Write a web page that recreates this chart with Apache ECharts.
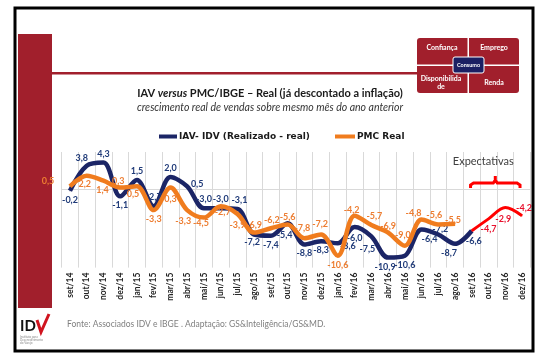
<!DOCTYPE html>
<html><head><meta charset="utf-8">
<script src="https://cdn.jsdelivr.net/npm/echarts@6/dist/echarts.min.js"></script>
<style>html,body{margin:0;padding:0;background:#fff}#c{width:547px;height:360px}</style>
</head><body><div id="c"></div>
<script>
const categories = ['set/14','out/14','nov/14','dez/14','jan/15','fev/15','mar/15','abr/15','mai/15','jun/15','jul/15','ago/15','set/15','out/15','nov/15','dez/15','jan/16','fev/16','mar/16','abr/16','mai/16','jun/16','jul/16','ago/16','set/16','out/16','nov/16','dez/16'];
const iavValues = [-0.2,3.8,4.3,-1.1,1.5,-2.7,2.0,0.5,-3.0,-3.0,-3.1,-7.2,-7.4,-5.4,-8.8,-8.3,-8.6,-6.0,-7.5,-10.9,-10.6,-6.4,-7.2,-8.7,-6.6,null,null,null];
const pmcValues = [0.5,2.2,1.4,0.3,0.5,-3.3,0.3,-3.3,-4.5,-2.7,-3.9,-6.9,-6.2,-5.6,-7.8,-7.2,-10.6,-4.2,-5.7,-6.9,-9.0,-4.8,-5.6,-5.5,null,null,null,null];
const expValues = [null,null,null,null,null,null,null,null,null,null,null,null,null,null,null,null,null,null,null,null,null,null,null,null,-6.6,-4.7,-2.9,-4.2];
const seriesNames = ['IAV- IDV (Realizado - real)','PMC Real','Expectativas'];

// label placement (style only)
const iavLabelPos = [[0,9],[-5,-8],[0,-9],[0,9],[0,-9],[0,-9],[0,-9],[10,-2],[0,-9],[0,-9],[2,-9],[-2,8],[0,9],[-3,12],[0,9],[0,9],[10,3],[0,11],[-4,13],[-3,9],[0,9],[8,10],[2,-5],[-6,9],[2,10]];
const pmcLabelPos = [[-22,-5],[-2,8],[-1,9],[-2,-7],[-4,8],[0,9],[0,11],[-4,11],[-3,5],[2,6],[0,11],[0,-8],[1,-8],[0,-7],[-2,-10],[-1,-10],[0,9],[-3,-6],[3,-9],[0,-7],[-2,-11],[-8,-6],[-4,-9],[-2,-4]];
const expLabelPos = [null,[0,10],[-2,11],[2,-8]];

const fmt = v => v.toFixed(1).replace('.', ',');
function mk(values, pos, color) {
  return values.map((v, i) => {
    if (v === null) return null;
    const p = pos[i];
    if (!p) return {value: v, label: {show: false}};
    return {value: v, label: {show: true, position: 'inside', offset: p, align: 'center', verticalAlign: 'middle', color: color}};
  });
}
const expPos = new Array(24).fill(null).concat(expLabelPos);

const chart = echarts.init(document.getElementById('c'), null, {renderer: 'canvas'});
const lblFont = {fontFamily: 'Lato', fontWeight: 'bold', fontSize: 9, formatter: p => fmt(p.value)};
const symCommon = {symbol: 'circle', symbolSize: 1, showSymbol: true, showAllSymbol: true};

const option = {
  animation: false,
  backgroundColor: '#fff',
  title: {
    left: 265, top: 83, textAlign: 'center',
    text: '{a|IAV }{b|versus}{a| PMC/IBGE – Real (já descontado a inflação)}',
    subtext: 'crescimento real de vendas sobre mesmo mês do ano anterior',
    itemGap: 3,
    textStyle: {rich: {
      a: {fontFamily: 'Lato', fontWeight: 'bold', fontSize: 11, color: '#1a1a1a'},
      b: {fontFamily: 'Lato', fontWeight: 'bold', fontStyle: 'italic', fontSize: 11, color: '#1a1a1a'}
    }},
    subtextStyle: {fontFamily: 'Lato', fontStyle: 'italic', fontSize: 10.5, color: '#333'}
  },
  legend: [
    {left: 154, top: 127, data: [seriesNames[0]], itemWidth: 18, itemHeight: 4, icon: 'rect', itemGap: 3,
     textStyle: {fontFamily: 'DejaVu Sans', fontWeight: 'bold', fontSize: 9, color: '#1a1a1a', padding: [0,0,0,-3]}},
    {left: 330, top: 127, data: [seriesNames[1]], itemWidth: 20, itemHeight: 4, icon: 'rect',
     textStyle: {fontFamily: 'DejaVu Sans', fontWeight: 'bold', fontSize: 9, color: '#1a1a1a', padding: [0,0,0,-3]}}
  ],
  grid: {left: 61.6, right: 16.6, top: 152, height: 115.6},
  xAxis: {
    type: 'category', data: categories, boundaryGap: true,
    axisLine: {show: false}, axisTick: {show: false},
    splitLine: {show: true, interval: 0, lineStyle: {color: '#d9d9d9', width: 1}},
    axisLabel: {interval: 0, rotate: 90, margin: 5, fontFamily: 'Lato', fontWeight: 'bold', fontSize: 8.5, color: '#262626'}
  },
  yAxis: {type: 'value', min: -12.5, max: 6, show: false, splitLine: {show: false}},
  series: [
    Object.assign({name: seriesNames[0], type: 'line', smooth: 0.33,
     data: mk(iavValues, iavLabelPos, '#1f3a78'),
     lineStyle: {color: '#1b2566', width: 4.5}, itemStyle: {color: '#1b2566'},
     label: Object.assign({show: true}, lblFont), z: 3,
     markLine: {silent: true, symbol: 'none', label: {show: false}, lineStyle: {color: '#d9d9d9', type: 'solid', width: 1}, data: [{yAxis: 0}], z: 1}}, symCommon),
    Object.assign({name: seriesNames[1], type: 'line', smooth: 0.33,
     data: mk(pmcValues, pmcLabelPos, '#ED7D31'),
     lineStyle: {color: '#F07C1E', width: 4.5}, itemStyle: {color: '#F07C1E'},
     label: Object.assign({show: true}, lblFont), z: 4}, symCommon),
    Object.assign({name: seriesNames[2], type: 'line', smooth: 0.33,
     data: mk(expValues, expPos, '#E8112D'),
     lineStyle: {color: '#FF0000', width: 3}, itemStyle: {color: '#FF0000'},
     label: Object.assign({show: true}, lblFont), z: 5}, symCommon)
  ]
};
chart.setOption(option);

// decorations
const red = '#A11F2C';
const xOut = chart.convertToPixel({xAxisIndex: 0}, 'out/16');
const xDez = chart.convertToPixel({xAxisIndex: 0}, 'dez/16');
const xNov = chart.convertToPixel({xAxisIndex: 0}, 'nov/16');
const bx0 = xOut - 18, bx1 = xDez - 2, bMid = (bx0 + bx1) / 2;
chart.setOption({graphic: [
  {type: 'rect', shape: {x: 15, y: 8, width: 518, height: 343}, style: {fill: null, stroke: '#000', lineWidth: 3}, z: 10},
  {type: 'rect', shape: {x: 18, y: 34, width: 34, height: 274}, style: {fill: red}},
  {type: 'rect', shape: {x: 52, y: 72, width: 365, height: 2.5}, style: {fill: red}},
  {type: 'rect', shape: {x: 417, y: 38, width: 102, height: 55, r: 3}, style: {fill: red}},
  {type: 'rect', shape: {x: 467.5, y: 38, width: 1.5, height: 55}, style: {fill: '#fff'}},
  {type: 'rect', shape: {x: 417, y: 64.5, width: 102, height: 1.5}, style: {fill: '#fff'}},
  {type: 'rect', shape: {x: 453, y: 57, width: 31, height: 16, r: 2}, style: {fill: '#1b1f63', stroke: '#fff', lineWidth: 1}},
  {type: 'text', x: 468.5, y: 65.5, style: {text: 'Consumo', fill: '#fff', font: 'bold 5.5px Lato', align: 'center', verticalAlign: 'middle'}},
  {type: 'text', x: 442, y: 48, style: {text: 'Confiança', fill: '#fff', font: 'bold 7px Lato', align: 'center', verticalAlign: 'middle'}},
  {type: 'text', x: 494, y: 48, style: {text: 'Emprego', fill: '#fff', font: 'bold 7px Lato', align: 'center', verticalAlign: 'middle'}},
  {type: 'text', x: 441, y: 79, style: {text: 'Disponibilida', fill: '#fff', font: 'bold 7px Lato', align: 'center', verticalAlign: 'middle'}},
  {type: 'text', x: 441, y: 87, style: {text: 'de', fill: '#fff', font: 'bold 7px Lato', align: 'center', verticalAlign: 'middle'}},
  {type: 'text', x: 494, y: 83, style: {text: 'Renda', fill: '#fff', font: 'bold 7px Lato', align: 'center', verticalAlign: 'middle'}},
  {type: 'text', x: xNov - 22, y: 161, style: {text: 'Expectativas', fill: '#404040', font: '11px Lato', align: 'center', verticalAlign: 'middle'}},
  {type: 'polyline', shape: {points: [[bx0, 188], [bx0, 185], [bx0 + 3, 183], [bMid - 2, 183], [bMid, 180], [bMid, 176], [bMid, 180], [bMid + 2, 183], [bx1 - 3, 183], [bx1, 185], [bx1, 188]]}, style: {stroke: '#FF0000', lineWidth: 3, fill: null}},
  {type: 'text', x: 20, y: 326, style: {text: 'ID', fill: '#111', font: 'bold 15px Lato', verticalAlign: 'middle'}},
  {type: 'polyline', shape: {points: [[37, 320], [41, 332], [49, 314]]}, style: {stroke: '#d0141f', lineWidth: 3, fill: null}},
  {type: 'text', x: 20, y: 340, style: {text: 'Instituto para\nDesenvolvimento\ndo Varejo', fill: '#888', font: '3px Lato', verticalAlign: 'middle'}},
  {type: 'text', x: 67, y: 324, style: {text: 'Fonte: Associados IDV e IBGE . Adaptação: GS&Inteligência/GS&MD.', fill: '#7f7f7f', font: '8.5px Lato', verticalAlign: 'middle'}}
]});
</script></body></html>
